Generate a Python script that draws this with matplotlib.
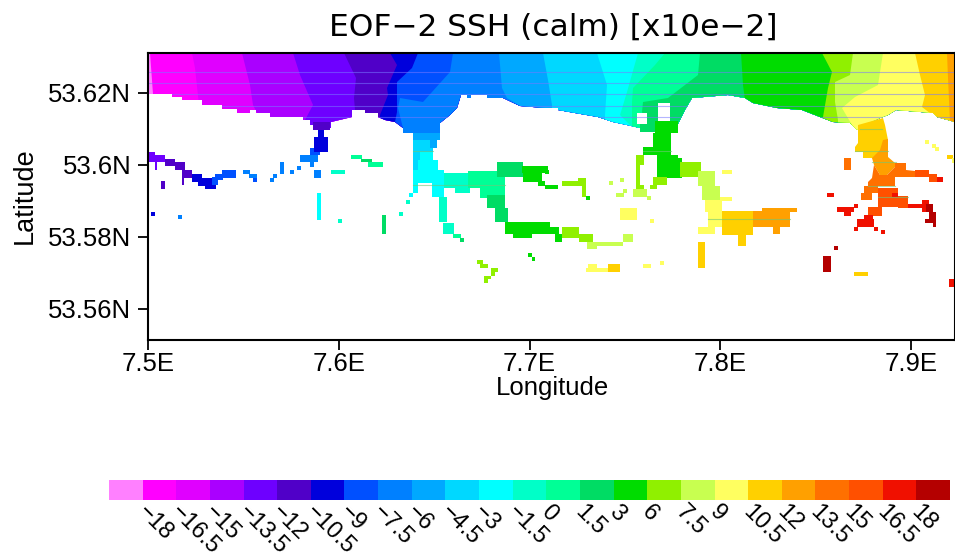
import matplotlib
matplotlib.use("Agg")
import matplotlib.pyplot as plt
from matplotlib.colors import ListedColormap
from matplotlib.transforms import ScaledTranslation

plt.rcParams['font.family'] = ['Liberation Sans', 'DejaVu Sans']

# colour levels of the SSH key
level_labels = ['\u221218', '\u221216.5', '\u221215', '\u221213.5', '\u221212', '\u221210.5', '\u22129', '\u22127.5',
                '\u22126', '\u22124.5', '\u22123', '\u22121.5', '0', '1.5', '3', '6', '7.5', '9', '10.5',
                '12', '13.5', '15', '16.5', '18']
level_colors = ['#ff80ff', '#ff00ff', '#e000ff', '#aa00ff', '#6e00ff', '#5000c8', '#0000dc', '#0050ff',
                '#0080ff', '#00a8ff', '#00d8ff', '#00ffff', '#00ffc8', '#00ff96', '#00dc64', '#00dc00',
                '#90f000', '#c8ff50', '#ffff60', '#ffd000', '#ffa000', '#ff7000', '#ff5000', '#f01000',
                '#b40000']

# map grid: lon = lon0 + i*dlon, lat = lat0 - j*dlat
lon0, dlon = 7.5 - 148 / 1907.5, 1 / 1907.5
lat0, dlat = 53.62 + 93 / 3600, 1 / 3600


def lon(i):
    return lon0 + i * dlon


def lat(j):
    return lat0 - j * dlat


# contour between the levels in the open sea part: (level on the right, [(i, j), ...]) top to bottom
bands = [
    (1, [(150, 53), (153, 94), (153, 140)]),
    (2, [(192, 53), (195, 68), (199, 105), (199, 140)]),
    (3, [(242, 53), (250, 85), (253, 105), (257, 113), (257, 140)]),
    (4, [(293, 53), (300, 75), (313, 105), (305, 120), (305, 140)]),
    (5, [(344, 53), (356, 78), (354, 98), (355, 110), (355, 140)]),
    (6, [(390, 53), (397, 65), (387, 88), (388, 95), (380, 115), (380, 140)]),
    (7, [(418, 53), (412, 68), (397, 82), (397, 112), (395, 122), (395, 140)]),
    (8, [(453, 53), (450, 72), (423, 102), (400, 98), (398, 108), (403, 128), (403, 140)]),
    (9, [(499, 53), (502, 88), (507, 98), (522, 107), (522, 140)]),
    (10, [(543, 53), (548, 80), (552, 105), (552, 140)]),
    (11, [(597, 53), (607, 85), (605, 115), (605, 140)]),
    (12, [(638, 53), (627, 92), (620, 115), (630, 125), (630, 140)]),
    (13, [(665, 53), (655, 65), (633, 88), (632, 102), (632, 140)]),
    (14, [(700, 53), (698, 75), (668, 98), (643, 102), (642, 112), (645, 122), (645, 140)]),
    (15, [(741, 53), (743, 85), (745, 100), (745, 140)]),
    (16, [(822, 53), (832, 72), (828, 88), (823, 117), (823, 140)]),
    (17, [(853, 53), (850, 75), (835, 82), (835, 102), (838, 120), (838, 140)]),
    (18, [(883, 53), (878, 85), (855, 97), (842, 108), (852, 125), (852, 140)]),
    (19, [(915, 53), (920, 75), (925, 95), (922, 107), (935, 117), (935, 140)]),
    (20, [(947, 53), (948, 78), (950, 122), (950, 140)]),
]

# coast of the open sea part
coast = [(148, 53), (148, 94), (172, 94), (172, 97), (182, 97), (182, 100), (202, 100), (202, 105), (222, 105),
         (222, 109), (237, 109), (237, 113), (250, 113), (250, 110), (256, 110), (256, 113), (270, 113), (270, 117),
         (303, 117), (303, 120), (310, 120), (310, 125), (315, 125), (315, 128), (331, 128), (331, 122), (352, 117),
         (352, 110), (365, 110), (365, 113), (378, 113), (378, 117), (385, 120), (395, 122), (403, 128), (413, 133),
         (440, 133), (440, 123), (450, 115), (457, 108), (461, 95), (487, 95), (487, 98), (503, 98), (520, 106),
         (545, 108), (558, 108), (558, 110), (575, 113), (598, 117), (613, 122), (627, 125), (640, 128), (678, 124),
         (685, 110), (692, 98), (728, 95), (745, 98), (753, 103), (777, 108), (802, 110), (820, 117), (833, 122),
         (850, 123), (857, 130), (864, 125), (880, 118), (888, 115), (896, 110), (933, 113), (937, 117), (955, 122),
         (955, 53)]

# channels and single cells: (level, i0, i1, j0, j1)
cells = [
    (4, 148, 155, 152, 162), (4, 155, 165, 155, 162), (5, 165, 175, 159, 166), (5, 175, 185, 162, 170),
    (4, 155, 157, 162, 170), (5, 182, 192, 170, 178), (5, 182, 184, 178, 185), (6, 192, 202, 174, 182),
    (6, 198, 215, 178, 186), (6, 205, 216, 185, 189), (7, 212, 218, 177, 185), (7, 215, 223, 174, 180),
    (7, 222, 236, 170, 178), (5, 161, 165, 181, 189), (6, 151, 155, 212, 216), (8, 178, 182, 215, 219),
    (8, 243, 250, 170, 174), (8, 249, 257, 174, 178), (7, 253, 257, 178, 182), (8, 270, 274, 178, 182),
    (8, 273, 277, 174, 178), (8, 280, 284, 162, 174), (8, 290, 294, 170, 174), (8, 297, 301, 166, 170),
    (8, 314, 321, 170, 178), (8, 310, 314, 162, 167), (8, 300, 318, 155, 162), (7, 310, 320, 148, 155),
    (6, 314, 328, 137, 152), (6, 318, 324, 128, 137), (5, 313, 330, 122, 130),
    (12, 331, 345, 170, 174), (13, 351, 362, 155, 159), (14, 361, 372, 159, 162), (13, 368, 383, 162, 167),
    (11, 317, 321, 193, 220), (12, 338, 342, 219, 223), (14, 382, 386, 215, 234), (12, 399, 403, 212, 216),
    (12, 406, 410, 200, 204), (11, 409, 413, 193, 197),
    (8, 403, 440, 128, 133), (9, 413, 440, 133, 140), (9, 413, 437, 140, 148),
    (10, 413, 430, 140, 148), (10, 413, 433, 148, 160), (10, 413, 438, 160, 170), (11, 420, 433, 152, 160),
    (11, 418, 438, 160, 170), (11, 413, 444, 170, 183), (11, 413, 418, 182, 193), (11, 432, 444, 183, 197),
    (12, 444, 470, 173, 188), (12, 455, 470, 188, 193), (13, 468, 505, 171, 188), (13, 480, 505, 188, 198),
    (14, 497, 523, 162, 177), (14, 487, 505, 195, 208), (14, 495, 508, 208, 222),
    (15, 522, 548, 166, 173), (15, 523, 542, 173, 182), (15, 538, 545, 181, 186), (15, 545, 550, 185, 189),
    (15, 545, 549, 170, 174), (15, 545, 558, 185, 189), (16, 562, 586, 181, 186), (16, 578, 586, 178, 186),
    (16, 582, 586, 186, 197), (15, 586, 590, 196, 200),
    (15, 505, 550, 222, 234), (15, 513, 532, 234, 238), (15, 545, 559, 227, 234), (15, 555, 562, 234, 242),
    (16, 562, 579, 227, 238), (16, 579, 593, 234, 242), (17, 587, 597, 242, 249), (17, 593, 623, 242, 246),
    (17, 623, 633, 234, 242), (15, 528, 532, 253, 257), (15, 532, 535, 257, 261),
    (16, 477, 483, 260, 264), (16, 480, 488, 264, 268), (16, 491, 498, 268, 272), (16, 491, 495, 272, 276),
    (16, 484, 491, 276, 279), (16, 484, 488, 279, 283),
    (12, 439, 447, 197, 222), (12, 443, 454, 223, 234), (13, 453, 461, 234, 238), (14, 460, 464, 238, 242),
    (8, 467, 471, 95, 98),
    (14, 640, 660, 122, 132), (15, 655, 678, 121, 133), (15, 653, 671, 133, 147), (15, 643, 671, 147, 155),
    (15, 657, 678, 155, 162), (15, 657, 682, 158, 178), (16, 680, 701, 162, 177), (16, 653, 667, 177, 185),
    (16, 636, 644, 155, 165), (16, 636, 640, 165, 185), (16, 636, 644, 185, 189), (16, 650, 657, 185, 189),
    (17, 633, 647, 189, 197), (17, 609, 613, 181, 185), (17, 620, 624, 178, 182), (17, 623, 627, 189, 193),
    (17, 616, 624, 193, 197), (17, 647, 651, 196, 200), (18, 620, 637, 208, 220), (18, 650, 654, 219, 223),
    (17, 698, 715, 171, 186), (17, 702, 720, 186, 200), (18, 720, 732, 197, 201), (18, 722, 732, 170, 174),
    (18, 705, 722, 200, 212), (18, 708, 722, 208, 227), (18, 698, 715, 227, 234),
    (19, 722, 753, 211, 235), (19, 738, 746, 235, 246), (20, 753, 790, 211, 227), (20, 762, 797, 208, 212),
    (20, 773, 780, 227, 234), (19, 698, 705, 242, 268), (18, 586, 620, 268, 272), (18, 588, 597, 264, 268),
    (19, 608, 620, 264, 272), (18, 643, 651, 264, 268), (18, 660, 664, 261, 265),
    (21, 864, 878, 186, 193), (21, 861, 872, 193, 200), (21, 844, 851, 158, 170),
    (22, 915, 929, 170, 177), (22, 929, 937, 174, 182), (22, 878, 898, 188, 197), (22, 878, 908, 197, 207),
    (22, 898, 908, 196, 208), (22, 868, 882, 207, 216),
    (23, 892, 898, 193, 197), (23, 908, 925, 204, 208), (23, 922, 929, 200, 212), (23, 864, 873, 215, 219),
    (23, 857, 874, 219, 227), (23, 837, 854, 207, 212), (23, 844, 851, 212, 216), (23, 854, 858, 204, 208),
    (23, 827, 834, 193, 197), (23, 854, 858, 227, 231), (23, 874, 878, 227, 231), (23, 881, 885, 230, 234),
    (23, 937, 943, 177, 182), (24, 926, 933, 204, 212), (24, 929, 936, 212, 219), (24, 925, 936, 219, 223),
    (24, 933, 936, 223, 227), (24, 823, 831, 256, 272), (24, 834, 838, 246, 250), (19, 854, 868, 272, 276),
    (23, 949, 955, 279, 287), (18, 925, 929, 140, 144), (18, 932, 936, 144, 148), (18, 935, 939, 147, 151),
    (19, 947, 953, 155, 159), (18, 952, 955, 158, 163),
]

# estuary parts that are not a plain cell: (level, [(i, j), ...])
patches = [
    (19, [(858, 125), (883, 118), (885, 125), (888, 140), (888, 160), (878, 163), (872, 158), (863, 158), (863, 152),
          (855, 152), (855, 147), (858, 143)]),
    (20, [(883, 140), (888, 139), (888, 157), (895, 163), (895, 167), (887, 175), (880, 175), (874, 165), (872, 158),
          (880, 150)]),
    (21, [(895, 163), (906, 163), (906, 170), (915, 171), (915, 177), (895, 177), (895, 186), (868, 186), (868, 182),
          (872, 178), (874, 165), (880, 175), (887, 175), (895, 167)]),
]

# holes in the sea part
holes = [(658, 670, 103, 121), (637, 647, 113, 124)]

# thin row lines over the sea
sea_rows = [72, 83, 94, 106, 117]
channel_rows = [(151, 413, 433), (151, 643, 671), (185, 413, 505), (219, 708, 790),
                (129, 860, 882), (151, 855, 888), (162, 872, 896), (186, 868, 895), (197, 878, 908)]

x_ticks = [7.5, 7.6, 7.7, 7.8, 7.9]
x_labels = ['7.5E', '7.6E', '7.7E', '7.8E', '7.9E']
y_ticks = [53.56, 53.58, 53.6, 53.62]
y_labels = ['53.56N', '53.58N', '53.6N', '53.62N']

W, H = 955, 558
fig = plt.figure(figsize=(W / 100, H / 100), dpi=100)
ax = fig.add_axes([148 / W, 1 - 340 / H, (955 - 148) / W, (340 - 53) / H])

# open sea, painted from west to east and cut along the coast
coast_patch = ax.fill([lon(p[0]) for p in coast], [lat(p[1]) for p in coast],
                      facecolor='none', edgecolor='none')[0]
sea = ax.fill([lon(148), lon(955), lon(955), lon(148)], [lat(53), lat(53), lat(140), lat(140)],
              color=level_colors[0], lw=0)[0]
sea.set_clip_path(coast_patch)
for level, line in bands:
    xs = [lon(p[0]) for p in line] + [lon(955), lon(955)]
    ys = [lat(p[1]) for p in line] + [lat(140), lat(53)]
    poly = ax.fill(xs, ys, color=level_colors[level], lw=0)[0]
    poly.set_clip_path(coast_patch)
for j in sea_rows:
    ln = ax.plot([lon(148), lon(955)], [lat(j), lat(j)], color='#7878ff', lw=0.8, alpha=0.55)[0]
    ln.set_clip_path(coast_patch)

for level, i0, i1, j0, j1 in cells:
    ax.fill([lon(i0), lon(i1), lon(i1), lon(i0)], [lat(j0), lat(j0), lat(j1), lat(j1)],
            color=level_colors[level], lw=0)
for level, pts in patches:
    ax.fill([lon(p[0]) for p in pts], [lat(p[1]) for p in pts], color=level_colors[level], lw=0)
for i0, i1, j0, j1 in holes:
    ax.fill([lon(i0), lon(i1), lon(i1), lon(i0)], [lat(j0), lat(j0), lat(j1), lat(j1)], color='white', lw=0)
for j, i0, i1 in channel_rows:
    ax.plot([lon(i0), lon(i1)], [lat(j), lat(j)], color='#70c878', lw=0.8, alpha=0.6)

ax.set_xlim(lon(148), lon(955))
ax.set_ylim(lat(340), lat(53))
ax.set_xticks(x_ticks, x_labels)
ax.set_yticks(y_ticks, y_labels)
ax.tick_params(length=7, width=1.3, labelsize=18.5)
ax.tick_params(axis='x', pad=1.5)
ax.tick_params(axis='y', pad=5)
for s in ax.spines.values():
    s.set_linewidth(1.5)
fig.text(553 / W, 1 - 27 / H, 'EOF\u22122 SSH (calm) [x10e\u22122]', fontsize=22.5,
         family='DejaVu Sans', ha='center', va='center')
fig.text(553 / W, 1 - 388 / H, 'Longitude', fontsize=18.5, ha='center', va='center')
fig.text(25 / W, 1 - 196 / H, 'Latitude', fontsize=19.5, rotation=90, ha='center', va='center')

# colour key
cax = fig.add_axes([109 / W, 1 - 500 / H, (950 - 109) / W, 20 / H])
edges = list(range(len(level_colors) + 1))
cax.pcolormesh(edges, [0, 1], [edges[:-1]], cmap=ListedColormap(level_colors), vmin=0, vmax=len(level_colors))
cax.set_yticks([])
cax.set_xticks(edges[1:-1], level_labels, rotation=-45, ha='left', va='top', rotation_mode='anchor')
cax.tick_params(axis='x', length=0, labelsize=17, pad=1)
for t in cax.get_xticklabels():
    t.set_transform(t.get_transform() + ScaledTranslation(0.06, 0, fig.dpi_scale_trans))
for s in cax.spines.values():
    s.set_visible(False)

fig.savefig('out.png', dpi=100)
